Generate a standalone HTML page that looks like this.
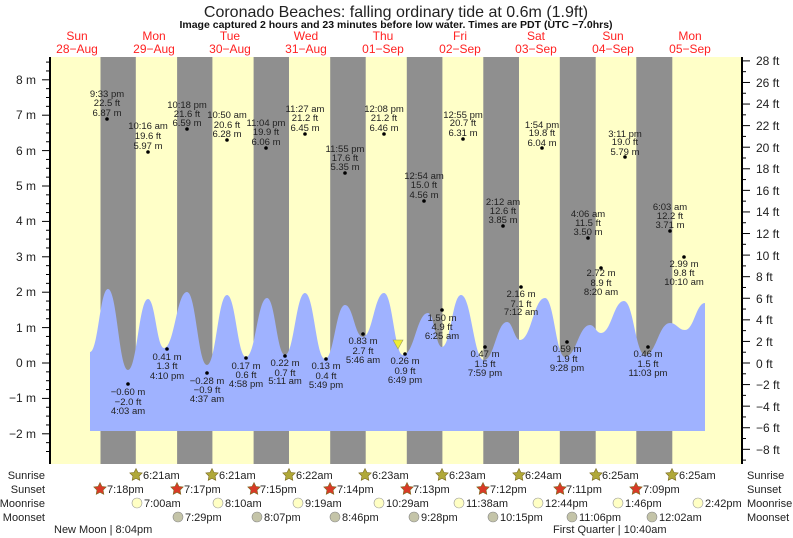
<!DOCTYPE html>
<html><head><meta charset="utf-8"><style>
body{margin:0;background:#fff;}
svg{display:block;font-family:"Liberation Sans",sans-serif;}
.l text{font-size:9.5px;fill:#222;text-anchor:middle;}
.ax{font-size:12px;fill:#222;}
.b text{font-size:11px;fill:#222;}
</style></head><body>
<svg width="793" height="538" viewBox="0 0 793 538">
<rect x="0" y="0" width="793" height="538" fill="#fff"/>
<rect x="50" y="57" width="692" height="407" fill="#ffffc8"/>
<g fill="#8f8f8f">
<rect x="100.5" y="57" width="35.3" height="407"/>
<rect x="177.1" y="57" width="35.3" height="407"/>
<rect x="253.6" y="57" width="35.4" height="407"/>
<rect x="330.2" y="57" width="35.5" height="407"/>
<rect x="406.8" y="57" width="35.6" height="407"/>
<rect x="483.3" y="57" width="35.7" height="407"/>
<rect x="559.8" y="57" width="35.9" height="407"/>
<rect x="636.3" y="57" width="36.0" height="407"/>
</g>
<path id="tide" fill="#9fb2ff" d=""/>
<text x="396" y="17" font-size="16" text-anchor="middle" fill="#222">Coronado Beaches: falling  ordinary tide at 0.6m (1.9ft)</text>
<text x="396" y="28" font-size="10.5" font-weight="bold" text-anchor="middle" fill="#111">Image captured 2 hours and 23 minutes before low water. Times are PDT (UTC −7.0hrs)</text>
<g font-size="12" fill="#f22" text-anchor="middle">
<text x="77" y="40">Sun</text><text x="77" y="53">28−Aug</text>
<text x="154" y="40">Mon</text><text x="154" y="53">29−Aug</text>
<text x="230" y="40">Tue</text><text x="230" y="53">30−Aug</text>
<text x="306" y="40">Wed</text><text x="306" y="53">31−Aug</text>
<text x="383" y="40">Thu</text><text x="383" y="53">01−Sep</text>
<text x="460" y="40">Fri</text><text x="460" y="53">02−Sep</text>
<text x="536" y="40">Sat</text><text x="536" y="53">03−Sep</text>
<text x="613" y="40">Sun</text><text x="613" y="53">04−Sep</text>
<text x="690" y="40">Mon</text><text x="690" y="53">05−Sep</text>
</g>
<line x1="50" y1="57" x2="50" y2="464" stroke="#000" stroke-width="2"/>
<line x1="742" y1="57" x2="742" y2="464" stroke="#000" stroke-width="2"/>
<g id="ticks" stroke="#000" stroke-width="1"></g>
<g class="ax" text-anchor="end">
<text x="36" y="84">8 m</text><text x="36" y="119">7 m</text><text x="36" y="155">6 m</text><text x="36" y="190">5 m</text><text x="36" y="225">4 m</text><text x="36" y="261">3 m</text><text x="36" y="296">2 m</text><text x="36" y="332">1 m</text><text x="36" y="367">0 m</text><text x="36" y="402">−1 m</text><text x="36" y="438">−2 m</text>
</g>
<g class="ax" text-anchor="start">
<text x="756" y="65">28 ft</text><text x="756" y="87">26 ft</text><text x="756" y="108">24 ft</text><text x="756" y="130">22 ft</text><text x="756" y="152">20 ft</text><text x="756" y="173">18 ft</text><text x="756" y="195">16 ft</text><text x="756" y="216">14 ft</text><text x="756" y="238">12 ft</text><text x="756" y="260">10 ft</text><text x="756" y="281">8 ft</text><text x="756" y="303">6 ft</text><text x="756" y="324">4 ft</text><text x="756" y="346">2 ft</text><text x="756" y="368">0 ft</text><text x="756" y="389">−2 ft</text><text x="756" y="411">−4 ft</text><text x="756" y="432">−6 ft</text><text x="756" y="454">−8 ft</text>
</g>
<g class="l">
<g id="dots" fill="#000"></g>
<text x="107" y="97">9:33 pm</text><text x="107" y="106">22.5 ft</text><text x="107" y="116">6.87 m</text>
<text x="148" y="129">10:16 am</text><text x="148" y="139">19.6 ft</text><text x="148" y="149">5.97 m</text>
<text x="187" y="108">10:18 pm</text><text x="187" y="117">21.6 ft</text><text x="187" y="126">6.59 m</text>
<text x="227" y="118">10:50 am</text><text x="227" y="128">20.6 ft</text><text x="227" y="137">6.28 m</text>
<text x="266" y="126">11:04 pm</text><text x="266" y="135">19.9 ft</text><text x="266" y="145">6.06 m</text>
<text x="305" y="112">11:27 am</text><text x="305" y="121">21.2 ft</text><text x="305" y="131">6.45 m</text>
<text x="345" y="152">11:55 pm</text><text x="345" y="161">17.6 ft</text><text x="345" y="170">5.35 m</text>
<text x="384" y="112">12:08 pm</text><text x="384" y="121">21.2 ft</text><text x="384" y="131">6.46 m</text>
<text x="424" y="179">12:54 am</text><text x="424" y="188">15.0 ft</text><text x="424" y="198">4.56 m</text>
<text x="463" y="118">12:55 pm</text><text x="463" y="126">20.7 ft</text><text x="463" y="136">6.31 m</text>
<text x="503" y="205">2:12 am</text><text x="503" y="214">12.6 ft</text><text x="503" y="223">3.85 m</text>
<text x="542" y="128">1:54 pm</text><text x="542" y="136">19.8 ft</text><text x="542" y="146">6.04 m</text>
<text x="588" y="217">4:06 am</text><text x="588" y="226">11.5 ft</text><text x="588" y="235">3.50 m</text>
<text x="625" y="137">3:11 pm</text><text x="625" y="145">19.0 ft</text><text x="625" y="155">5.79 m</text>
<text x="670" y="210">6:03 am</text><text x="670" y="219">12.2 ft</text><text x="670" y="228">3.71 m</text>
<text x="128" y="395">−0.60 m</text><text x="128" y="405">−2.0 ft</text><text x="128" y="414">4:03 am</text>
<text x="167" y="360">0.41 m</text><text x="167" y="369">1.3 ft</text><text x="167" y="379">4:10 pm</text>
<text x="207" y="384">−0.28 m</text><text x="207" y="393">−0.9 ft</text><text x="207" y="402">4:37 am</text>
<text x="246" y="369">0.17 m</text><text x="246" y="378">0.6 ft</text><text x="246" y="387">4:58 pm</text>
<text x="285" y="366">0.22 m</text><text x="285" y="376">0.7 ft</text><text x="285" y="384">5:11 am</text>
<text x="326" y="369">0.13 m</text><text x="326" y="379">0.4 ft</text><text x="326" y="388">5:49 pm</text>
<text x="363" y="344">0.83 m</text><text x="363" y="354">2.7 ft</text><text x="363" y="363">5:46 am</text>
<text x="405" y="364">0.26 m</text><text x="405" y="374">0.9 ft</text><text x="405" y="383">6:49 pm</text>
<text x="442" y="321">1.50 m</text><text x="442" y="330">4.9 ft</text><text x="442" y="339">6:25 am</text>
<text x="485" y="357">0.47 m</text><text x="485" y="367">1.5 ft</text><text x="485" y="376">7:59 pm</text>
<text x="521" y="297">2.16 m</text><text x="521" y="307">7.1 ft</text><text x="521" y="315">7:12 am</text>
<text x="567" y="352">0.59 m</text><text x="567" y="362">1.9 ft</text><text x="567" y="371">9:28 pm</text>
<text x="601" y="276">2.72 m</text><text x="601" y="286">8.9 ft</text><text x="601" y="295">8:20 am</text>
<text x="648" y="357">0.46 m</text><text x="648" y="367">1.5 ft</text><text x="648" y="376">11:03 pm</text>
<text x="684" y="267">2.99 m</text><text x="684" y="276">9.8 ft</text><text x="684" y="285">10:10 am</text>
</g>
<polygon points="393,340 403,340 398,349" fill="#ee3" stroke="#996" stroke-width="0.6"/>
<g class="b">
<text x="45" y="479" text-anchor="end">Sunrise</text><text x="45" y="493" text-anchor="end">Sunset</text><text x="45" y="507" text-anchor="end">Moonrise</text><text x="45" y="521" text-anchor="end">Moonset</text>
<text x="747" y="479">Sunrise</text><text x="747" y="493">Sunset</text><text x="747" y="507">Moonrise</text><text x="747" y="521">Moonset</text>
<g id="icons"></g>
<text x="143" y="479">6:21am</text><text x="219" y="479">6:21am</text><text x="296" y="479">6:22am</text><text x="372" y="479">6:23am</text><text x="449" y="479">6:23am</text><text x="525" y="479">6:24am</text><text x="602" y="479">6:25am</text><text x="679" y="479">6:25am</text>
<text x="107" y="493">7:18pm</text><text x="184" y="493">7:17pm</text><text x="260" y="493">7:15pm</text><text x="337" y="493">7:14pm</text><text x="413" y="493">7:13pm</text><text x="490" y="493">7:12pm</text><text x="566" y="493">7:11pm</text><text x="643" y="493">7:09pm</text>
<text x="144" y="507">7:00am</text><text x="225" y="507">8:10am</text><text x="305" y="507">9:19am</text><text x="386" y="507">10:29am</text><text x="466" y="507">11:38am</text><text x="545" y="507">12:44pm</text><text x="625" y="507">1:46pm</text><text x="705" y="507">2:42pm</text>
<text x="185" y="521">7:29pm</text><text x="264" y="521">8:07pm</text><text x="342" y="521">8:46pm</text><text x="421" y="521">9:28pm</text><text x="500" y="521">10:15pm</text><text x="579" y="521">11:06pm</text><text x="659" y="521">12:02am</text>
<text x="54" y="533" font-size="10">New Moon | 8:04pm</text>
<text x="553" y="533" font-size="10">First Quarter | 10:40am</text>
</g>
</svg>
<script>
(function(){
var p=[[90,352],[108,289],[128,370],[148,299],[164,348],[187,292],[207,365],[227,295],[246,357],[267,298],[285,355],[305,293],[325,359],[345,305],[363,337],[384,293],[403,355],[428,313],[442,347],[461,295],[484,360],[507,322],[520,340],[545,298],[565,357],[590,325],[601,333],[624,301],[645,355],[670,323],[685,330],[705,303]];
var d="M90,431 L90,352";
for(var i=1;i<p.length;i++){var a=p[i-1],b=p[i],dx=(b[0]-a[0])*0.45;d+=" C"+(a[0]+dx)+","+a[1]+" "+(b[0]-dx)+","+b[1]+" "+b[0]+","+b[1];}
d+=" L705,431 Z";document.getElementById('tide').setAttribute('d',d);
var t=document.getElementById('ticks'),s="";
for(var m=-2.5;m<=8.5;m+=0.25){var y=363-35.4*m;var w=(Math.abs(m-Math.round(m))<0.01)?8:4;s+='<line x1="'+(50-w)+'" y1="'+y+'" x2="50" y2="'+y+'"/>';}
for(var f=-9;f<=28;f++){var y=363-35.4*f*0.3048;var w=(f%2==0)?8:4;s+='<line x1="742" y1="'+y+'" x2="'+(742+w)+'" y2="'+y+'"/>';}
t.innerHTML=s;
var dots=[[107,119],[148,152],[187,129],[227,140],[266,148],[305,134],[345,173],[384,134],[424,201],[463,139],[503,226],[542,148],[588,238],[625,157],[670,231],[128,384],[167,349],[207,373],[246,358],[285,356],[326,359],[363,334],[405,354],[442,310],[485,347],[521,287],[567,342],[601,268],[648,347],[684,257]];
var ds="";dots.forEach(function(q){ds+='<circle cx="'+q[0]+'" cy="'+q[1]+'" r="1.8"/>';});
document.getElementById('dots').innerHTML=ds;
function star(cx,cy,r,fill){var pts=[];for(var k=0;k<10;k++){var rr=k%2?r*0.5:r,an=-Math.PI/2+k*Math.PI/5;pts.push((cx+rr*Math.cos(an)).toFixed(1)+","+(cy+rr*Math.sin(an)).toFixed(1));}return '<polygon points="'+pts.join(" ")+'" fill="'+fill+'" stroke="#7a6a20" stroke-width="0.6"/>';}
var ic="";
[136,212,289,365,442,519,596,672].forEach(function(x){ic+=star(x,475,6.5,"#b0a838");});
[100,177,254,330,407,483,560,636].forEach(function(x){ic+=star(x,489,6.5,"#d83a26");});
[137,218,298,379,459,538,618,698].forEach(function(x){ic+='<circle cx="'+x+'" cy="503" r="5" fill="#ffffc4" stroke="#999" stroke-width="0.6"/>';});
[178,257,335,414,493,572,652].forEach(function(x){ic+='<circle cx="'+x+'" cy="517" r="5" fill="#c4c4a8" stroke="#888" stroke-width="0.6"/>';});
document.getElementById('icons').innerHTML=ic;
})();
</script>
</body></html>
